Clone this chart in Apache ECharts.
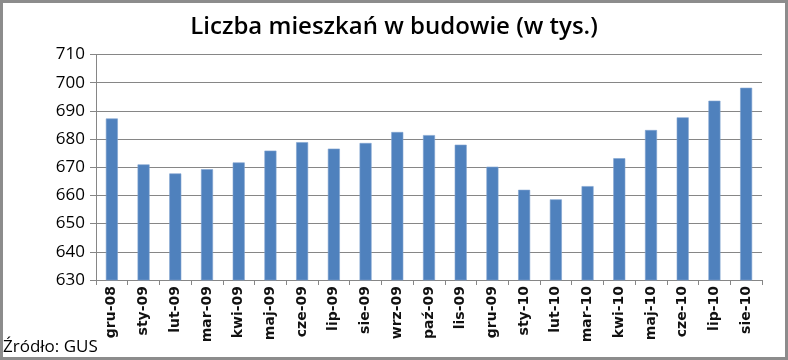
<!DOCTYPE html>
<html><head><meta charset="utf-8">
<script src="https://cdn.jsdelivr.net/npm/echarts@6/dist/echarts.min.js"></script>
<style>html,body{margin:0;padding:0;background:#fff}#c{width:788px;height:360px;box-sizing:border-box;border:3px solid #8c8c8c}</style>
</head><body><div id="c"></div>
<script>
const categories = ['gru-08','sty-09','lut-09','mar-09','kwi-09','maj-09','cze-09','lip-09','sie-09','wrz-09','paź-09','lis-09','gru-09','sty-10','lut-10','mar-10','kwi-10','maj-10','cze-10','lip-10','sie-10'];
const values = [687.3,671.0,667.8,669.3,671.7,675.9,678.9,676.6,678.6,682.5,681.4,678.0,670.2,662.0,658.6,663.3,673.2,683.2,687.7,693.6,698.2];
const title = 'Liczba mieszkań w budowie (w tys.)';
const source = 'Źródło: GUS';
const chart = echarts.init(document.getElementById('c'), null, {renderer:'canvas'});
chart.setOption({
  animation:false,
  title:{text:title,left:'center',top:7,textStyle:{fontFamily:'Open Sans',fontWeight:600,fontSize:24,color:'#000'}},
  graphic:[{type:'text',left:0,bottom:1,style:{text:source,font:'17px "Open Sans"',fill:'#000'}}],
  grid:{left:93,right:23,top:51.5,bottom:77},
  xAxis:{type:'category',data:categories,
    axisLine:{lineStyle:{color:'#868686',width:1}},
    axisTick:{show:true,length:5,lineStyle:{color:'#868686'}},
    axisLabel:{rotate:90,interval:0,fontFamily:'DejaVu Sans',fontWeight:'bold',fontSize:14,color:'#111',margin:6}},
  yAxis:{type:'value',min:630,max:710,interval:10,
    axisLine:{show:true,lineStyle:{color:'#868686'}},
    axisTick:{show:true,length:6,lineStyle:{color:'#868686'}},
    splitLine:{lineStyle:{color:'#868686',width:1}},
    axisLabel:{fontFamily:'Open Sans',fontSize:17,color:'#000',margin:11}},
  series:[{type:'bar',data:values,barWidth:12,itemStyle:{color:'#4F81BD',borderColor:'#7FA3D0',borderWidth:0.6}}]
});
</script></body></html>
